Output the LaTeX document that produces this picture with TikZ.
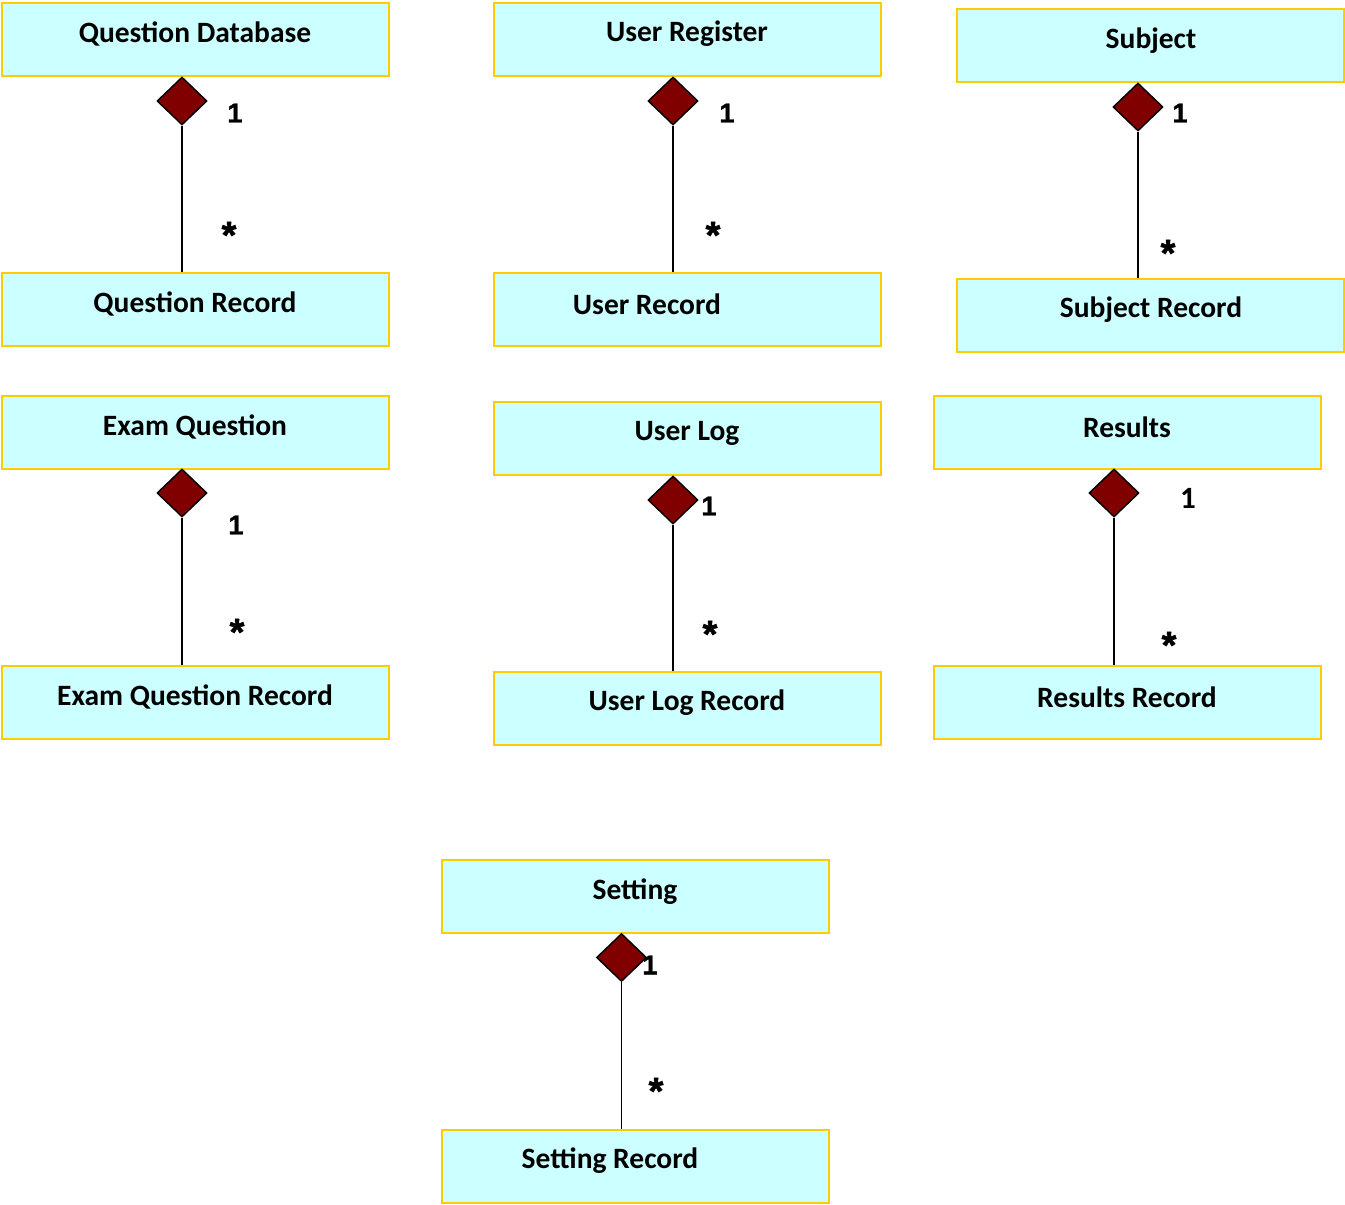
\documentclass[tikz,border=0pt]{standalone}
\usepackage{fontspec}
\setmainfont{Carlito}
\newfontfamily\multfont{Liberation Sans}[UprightFont=* Bold, FakeBold=1.5]
\usetikzlibrary{shapes.geometric}
\definecolor{boxfill}{HTML}{CCFFFF}
\definecolor{boxline}{HTML}{FFCC00}
\definecolor{aggfill}{HTML}{800000}
\begin{document}
\begin{tikzpicture}[x=1pt,y=-1pt,
  classbox/.style={draw=boxline, fill=boxfill, line width=2pt,
    minimum width=387pt, minimum height=73pt, inner sep=0pt},
  lbl/.style={font=\fontsize{29.5}{34}\selectfont\bfseries, inner sep=0pt, yshift=-2pt},
  agg/.style={diamond, draw=black, fill=aggfill, line width=1.4pt,
    minimum width=50pt, minimum height=48pt, inner sep=0pt},
  link/.style={draw=black, line width=1.6pt},
  one/.style={font=\multfont\fontsize{27}{30}\selectfont, inner sep=0pt},
  plainone/.style={font=\fontsize{31}{34}\selectfont\bfseries, inner sep=0pt},
  many/.style={font=\multfont\fontsize{38}{42}\selectfont, inner sep=0pt}]
\useasboundingbox (0,0) rectangle (1345,1205);
\fill[white] (0,0) rectangle (1345,1205);

% ---- Question Database / Question Record
\node[classbox] (qdb) at (195.5,39.5) {};
\node[lbl] (qdbt) at (195,32) {Question Database};
\node[classbox] (qrec) at (195.5,309) {};
\node[lbl] (qrect) at (195,302) {Question Record};
\node[agg] (qagg) at (182,101) {};
\draw[link] (qagg.south) -- (qagg.south |- qrec.north);
\node[one] (q1) at (235,113) {1};
\node[many] (qs) at (229,235) {*};

% ---- User Register / User Record
\node[classbox] (ureg) at (687,39.5) {};
\node[lbl] (uregt) at (687,32) {User Register};
\node[classbox] (urec) at (687,309) {};
\node[lbl] (urect) at (647,302) {User Record};
\node[agg] (uagg) at (673,101) {};
\draw[link] (uagg.south) -- (uagg.south |- urec.north);
\node[one] (u1) at (727,113) {1};
\node[many] (us) at (713,235) {*};

% ---- Subject / Subject Record
\node[classbox] (subj) at (1150.5,45.5) {};
\node[lbl] (subjt) at (1151,39) {Subject};
\node[classbox] (srec) at (1150.5,315) {};
\node[lbl] (srect) at (1151,308) {Subject Record};
\node[agg] (sagg) at (1138,107) {};
\draw[link] (sagg.south) -- (sagg.south |- srec.north);
\node[one] (s1) at (1180,113) {1};
\node[many] (ss) at (1168,253) {*};

% ---- Exam Question / Exam Question Record
\node[classbox] (exq) at (195.5,432.5) {};
\node[lbl] (exqt) at (195,425) {Exam Question};
\node[classbox] (exr) at (195.5,702) {};
\node[lbl] (exrt) at (195,695) {Exam Question Record};
\node[agg] (eagg) at (182,493) {};
\draw[link] (eagg.south) -- (eagg.south |- exr.north);
\node[one] (e1) at (236,525) {1};
\node[many] (es) at (237,632) {*};

% ---- User Log / User Log Record
\node[classbox] (ulog) at (687,438.5) {};
\node[lbl] (ulogt) at (687,431) {User Log};
\node[classbox] (ulr) at (687,708) {};
\node[lbl] (ulrt) at (687,701) {User Log Record};
\node[agg] (lagg) at (673,500) {};
\draw[link] (lagg.south) -- (lagg.south |- ulr.north);
\node[one] (l1) at (709,506) {1};
\node[many] (ls) at (710,634) {*};

% ---- Results / Results Record
\node[classbox] (res) at (1127,432.5) {};
\node[lbl] (rest) at (1127,425) {Results};
\node[classbox] (rrec) at (1127,702) {};
\node[lbl] (rrect) at (1127,695) {Results Record};
\node[agg] (ragg) at (1114,493) {};
\draw[link] (ragg.south) -- (ragg.south |- rrec.north);
\node[plainone] (r1) at (1188,498) {1};
\node[many] (rs) at (1169,645) {*};

% ---- Setting / Setting Record
\node[classbox] (set) at (635,896.5) {};
\node[lbl] (sett) at (635,890) {Setting};
\node[classbox] (setr) at (635,1166) {};
\node[lbl] (setrt) at (610,1159) {Setting Record};
\node[agg] (tagg) at (621.5,957.5) {};
\draw[link] (tagg.south) -- (tagg.south |- setr.north);
\node[one] (t1) at (650,965) {1};
\node[many] (ts) at (656,1091) {*};
\end{tikzpicture}
\end{document}
